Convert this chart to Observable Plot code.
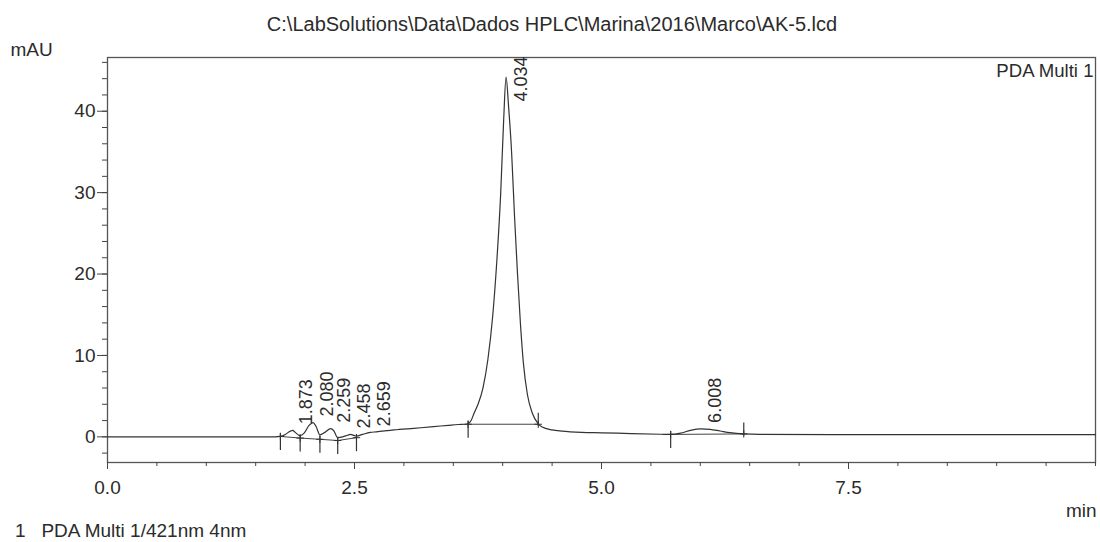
<!DOCTYPE html>
<html>
<head>
<meta charset="utf-8">
<script src="https://cdn.jsdelivr.net/npm/d3@7"></script>
<script src="https://cdn.jsdelivr.net/npm/@observablehq/plot@0.6"></script>
<style>
  html, body { margin: 0; padding: 0; background: #fff; }
  #wrap { position: relative; width: 1100px; height: 542px; overflow: hidden; font-family: 'Liberation Sans', Arial, sans-serif; color: #2b2b2b; }
  #title { box-sizing: border-box; height: 36px; padding-top: 14px; font-size: 20px; line-height: 20px; text-align: center; padding-left: 4px; }
  #caption { position: absolute; left: 15px; top: 520px; height: 22px; font-size: 19px; line-height: 21px; white-space: pre; }
  svg { display: block; }
</style>
</head>
<body>
<div id="wrap">
  <div id="title"></div>
  <div id="chart"></div>
  <div id="caption"></div>
</div>
<script>
// ---- Data ----
const titleText = "C:\\LabSolutions\\Data\\Dados HPLC\\Marina\\2016\\Marco\\AK-5.lcd";
const captionText = "1   PDA Multi 1/421nm 4nm";
const yUnit = "mAU";
const xUnit = "min";
const channelName = "PDA Multi 1";

// chromatogram trace (retention time in min, absorbance in mAU)
const times = [0.00, 1.00, 1.60, 1.70, 1.75, 1.80, 1.85, 1.873, 1.90, 1.95, 1.99, 2.04, 2.08, 2.11, 2.15,
  2.20, 2.259, 2.29, 2.33, 2.38, 2.43, 2.458, 2.50, 2.52, 2.58, 2.659, 2.72, 2.90, 3.10, 3.30, 3.45, 3.55,
  3.62, 3.65, 3.68, 3.71, 3.75, 3.80, 3.85, 3.90, 3.94, 3.98, 4.01, 4.034, 4.06, 4.09, 4.12, 4.15, 4.18,
  4.21, 4.25, 4.30, 4.36, 4.40, 4.50, 4.60, 4.80, 5.00, 5.30, 5.60, 5.70, 5.80, 5.90, 6.008, 6.10, 6.20,
  6.30, 6.44, 6.60, 8.00, 10.00];
const mAU = [0.00, 0.00, 0.00, 0.00, 0.05, 0.30, 0.70, 0.80, 0.55, 0.15, 0.45, 1.40, 1.75, 1.30, 0.25,
  0.55, 1.00, 0.75, -0.10, 0.00, 0.20, 0.30, 0.15, 0.10, 0.30, 0.55, 0.62, 0.85, 1.05, 1.25, 1.42, 1.52,
  1.55, 1.60, 2.00, 2.90, 4.00, 6.00, 9.50, 15.0, 21.5, 30.0, 39.0, 44.2, 40.5, 35.0, 27.0, 20.0, 13.8,
  9.0, 5.2, 2.9, 1.60, 1.20, 0.85, 0.70, 0.55, 0.50, 0.40, 0.32, 0.30, 0.45, 0.80, 0.98, 0.92, 0.72,
  0.52, 0.36, 0.30, 0.28, 0.28];

// peak labels
const peakLabels = ["1.873", "2.080", "2.259", "2.458", "2.659", "4.034", "6.008"];
const peakTimes = [1.873, 2.080, 2.259, 2.458, 2.659, 4.034, 6.008];
const peakHeights = [0.80, 1.75, 1.00, 0.30, 0.55, 44.2, 0.98];

// integration markers and baselines
const markerTimes = [1.75, 1.95, 2.15, 2.33, 2.52, 3.65, 4.36, 5.70, 6.44];
const markerValues = [0.05, -0.15, -0.30, -0.45, -0.10, 1.55, 1.55, 0.30, 0.36];
const markerDirs = ["down", "down", "down", "down", "down", "down", "up", "down", "up"];
const markerGroups = ["a", "a", "a", "a", "a", "b", "b", "c", "c"];

// axis ticks
const xMajorTicks = [0, 2.5, 5, 7.5];
const xMinorTicks = [0, 0.5, 1, 1.5, 2, 2.5, 3, 3.5, 4, 4.5, 5, 5.5, 6, 6.5, 7, 7.5, 8, 8.5, 9, 9.5, 10];
const yMajorTicks = [0, 10, 20, 30, 40];
const yMinorTicks = [-2, 0, 2, 4, 6, 8, 10, 12, 14, 16, 18, 20, 22, 24, 26, 28, 30, 32, 34, 36, 38, 40, 42, 44, 46];

// ---- Build tables ----
const trace = times.map((t, i) => ({t, v: mAU[i]}));
const peaks = peakLabels.map((label, i) => ({label, t: peakTimes[i], h: peakHeights[i]}));
const markers = markerTimes.map((t, i) => ({t, v: markerValues[i], dir: markerDirs[i], g: markerGroups[i]}));
const tallPeak = d => d.h > 40;

document.getElementById("title").textContent = titleText;
document.getElementById("caption").textContent = captionText;

const ink = "#2b2b2b";
const chart = Plot.plot({
  width: 1100,
  height: 490,
  marginLeft: 107,
  marginRight: 5,
  marginTop: 21,
  marginBottom: 64,
  style: {fontFamily: "'Liberation Sans', Arial, sans-serif", fontSize: "19px", color: ink, background: "white"},
  x: {domain: [0, 10]},
  y: {domain: [-3.15, 46.6]},
  marks: [
    Plot.frame({stroke: "#555", strokeWidth: 1.3}),
    Plot.axisX(xMinorTicks, {tickSize: 4, tickFormat: () => "", label: null, stroke: "#444"}),
    Plot.axisX(xMajorTicks, {tickSize: 7, tickPadding: 11, tickFormat: d3.format(".1f"), label: null, stroke: "#444"}),
    Plot.axisY(yMinorTicks, {tickSize: 5, tickFormat: () => "", label: null, stroke: "#444"}),
    Plot.axisY(yMajorTicks, {tickSize: 10, tickPadding: 2, label: null, stroke: "#444"}),
    // integration baselines
    Plot.line(markers, {x: "t", y: "v", z: "g", stroke: "#444", strokeWidth: 1}),
    // peak start / end markers
    Plot.ruleX(markers.filter(d => d.dir === "down"), {x: "t", y1: "v", y2: "v", insetTop: -3, insetBottom: -14, stroke: "#333", strokeWidth: 1.2}),
    Plot.ruleX(markers.filter(d => d.dir === "up"), {x: "t", y1: "v", y2: "v", insetTop: -11, insetBottom: -2, stroke: "#333", strokeWidth: 1.2}),
    Plot.dot(markers, {x: "t", y: "v", symbol: "plus", r: 2.5, stroke: "#333", strokeWidth: 1}),
    // chromatogram trace
    Plot.line(trace, {x: "t", y: "v", stroke: "#333", strokeWidth: 1.2, curve: "monotone-x"}),
    // peak labels
    Plot.text(peaks.filter(d => !tallPeak(d)), {x: "t", y: "h", text: "label", rotate: -90, textAnchor: "start", lineAnchor: "middle", dx: 14, dy: -6, fontSize: 18, fill: ink}),
    Plot.text(peaks.filter(tallPeak), {x: "t", text: "label", frameAnchor: "top", rotate: -90, textAnchor: "end", lineAnchor: "middle", dx: 15, dy: -1, fontSize: 18, fill: ink}),
    // unit and channel labels
    Plot.text([yUnit], {text: d => d, frameAnchor: "top-left", textAnchor: "start", lineAnchor: "middle", dx: -97, dy: -8, fontSize: 19, fill: ink}),
    Plot.text([channelName], {text: d => d, frameAnchor: "top-right", textAnchor: "end", lineAnchor: "middle", dx: -2, dy: 14, fontSize: 18.6, fill: ink}),
    Plot.text([xUnit], {text: d => d, frameAnchor: "bottom-right", textAnchor: "end", lineAnchor: "middle", dx: 1, dy: 48, fontSize: 19, fill: ink})
  ]
});
document.getElementById("chart").appendChild(chart);
</script>
</body>
</html>
